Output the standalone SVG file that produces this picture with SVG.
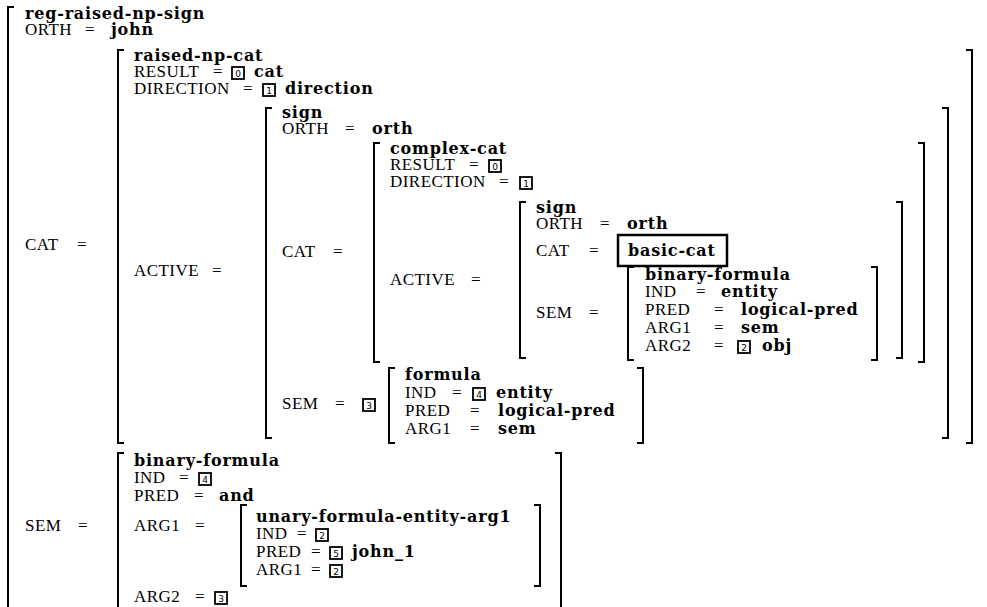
<svg xmlns="http://www.w3.org/2000/svg" width="987" height="607" viewBox="0 0 987 607">
<style>
.r{font-family:"Liberation Serif","Times New Roman",serif;font-size:17px;letter-spacing:0.45px;fill:#000}
.b{font-family:"DejaVu Serif",serif;font-weight:bold;font-size:16px;letter-spacing:0.8px;fill:#000}
.br{fill:none;stroke:#000;stroke-width:2}
.tg{fill:none;stroke:#000;stroke-width:1.8}
.tn{font-family:"DejaVu Sans",sans-serif;font-size:9px;fill:#000;text-anchor:middle}
</style>
<rect width="987" height="607" fill="#fff"/>
<defs>
<g id="t0"><rect class="tg" x="0" y="0" width="12" height="12"/><text class="tn" x="6" y="9.5">0</text></g>
<g id="t1"><rect class="tg" x="0" y="0" width="12" height="12"/><text class="tn" x="6" y="9.5">1</text></g>
<g id="t2"><rect class="tg" x="0" y="0" width="12" height="12"/><text class="tn" x="6" y="9.5">2</text></g>
<g id="t3"><rect class="tg" x="0" y="0" width="12" height="12"/><text class="tn" x="6" y="9.5">3</text></g>
<g id="t4"><rect class="tg" x="0" y="0" width="12" height="12"/><text class="tn" x="6" y="9.5">4</text></g>
<g id="t5"><rect class="tg" x="0" y="0" width="12" height="12"/><text class="tn" x="6" y="9.5">5</text></g>
</defs>

<g id="top">
<path class="br" d="M14 7H8V612"/>
<text class="b" x="25" y="19">reg-raised-np-sign</text>
<text class="r" x="25" y="35">ORTH</text><text class="r" x="85" y="35">=</text><text class="b" x="111" y="35">john</text>
<text class="r" x="25" y="250">CAT</text><text class="r" x="77" y="250">=</text>
<text class="r" x="25" y="531">SEM</text><text class="r" x="78" y="531">=</text>
</g>

<g id="raised-np-cat">
<path class="br" d="M124 50H118V443H124"/>
<path class="br" d="M966 50H972V443H966"/>
<text class="b" x="134" y="61">raised-np-cat</text>
<text class="r" x="134" y="77">RESULT</text><text class="r" x="213" y="77">=</text><use href="#t0" x="232" y="67"/><text class="b" x="254" y="77">cat</text>
<text class="r" x="134" y="94">DIRECTION</text><text class="r" x="243" y="94">=</text><use href="#t1" x="263" y="84"/><text class="b" x="285" y="94">direction</text>
<text class="r" x="134" y="276">ACTIVE</text><text class="r" x="212" y="276">=</text>
</g>

<g id="sign-outer">
<path class="br" d="M272 108H266V438H272"/>
<path class="br" d="M942 108H948V438H942"/>
<text class="b" x="282" y="118">sign</text>
<text class="r" x="282" y="134">ORTH</text><text class="r" x="345" y="134">=</text><text class="b" x="372" y="134">orth</text>
<text class="r" x="282" y="257">CAT</text><text class="r" x="333" y="257">=</text>
<text class="r" x="282" y="409">SEM</text><text class="r" x="335" y="409">=</text><use href="#t3" x="363" y="399"/>
</g>

<g id="complex-cat">
<path class="br" d="M380 143H374V362H380"/>
<path class="br" d="M918 143H924V362H918"/>
<text class="b" x="390" y="154">complex-cat</text>
<text class="r" x="390" y="170">RESULT</text><text class="r" x="469" y="170">=</text><use href="#t0" x="489" y="160"/>
<text class="r" x="390" y="187">DIRECTION</text><text class="r" x="499" y="187">=</text><use href="#t1" x="520" y="177"/>
<text class="r" x="390" y="285">ACTIVE</text><text class="r" x="471" y="285">=</text>
</g>

<g id="sign-inner">
<path class="br" d="M526 202H520V358H526"/>
<path class="br" d="M896 202H902V358H896"/>
<text class="b" x="536" y="213">sign</text>
<text class="r" x="536" y="229">ORTH</text><text class="r" x="600" y="229">=</text><text class="b" x="627" y="229">orth</text>
<text class="r" x="536" y="256">CAT</text><text class="r" x="589" y="256">=</text>
<rect x="618" y="235" width="109" height="31" fill="none" stroke="#000" stroke-width="2.5"/>
<text class="b" x="628" y="256">basic-cat</text>
<text class="r" x="536" y="318">SEM</text><text class="r" x="589" y="318">=</text>
</g>

<g id="binary-formula-inner">
<path class="br" d="M634 267H628V360H634"/>
<path class="br" d="M871 267H877V360H871"/>
<text class="b" x="645" y="280">binary-formula</text>
<text class="r" x="645" y="297">IND</text><text class="r" x="696" y="297">=</text><text class="b" x="721" y="297">entity</text>
<text class="r" x="645" y="315">PRED</text><text class="r" x="714" y="315">=</text><text class="b" x="741" y="315">logical-pred</text>
<text class="r" x="645" y="333">ARG1</text><text class="r" x="714" y="333">=</text><text class="b" x="741" y="333">sem</text>
<text class="r" x="645" y="351">ARG2</text><text class="r" x="714" y="351">=</text><use href="#t2" x="738" y="341"/><text class="b" x="762" y="351">obj</text>
</g>

<g id="formula">
<path class="br" d="M395 368H389V443H395"/>
<path class="br" d="M637 368H643V443H637"/>
<text class="b" x="405" y="380">formula</text>
<text class="r" x="405" y="398">IND</text><text class="r" x="452" y="398">=</text><use href="#t4" x="473" y="388"/><text class="b" x="496" y="398">entity</text>
<text class="r" x="405" y="416">PRED</text><text class="r" x="470" y="416">=</text><text class="b" x="498" y="416">logical-pred</text>
<text class="r" x="405" y="434">ARG1</text><text class="r" x="470" y="434">=</text><text class="b" x="498" y="434">sem</text>
</g>

<g id="binary-formula-outer">
<path class="br" d="M124 453H118V612"/>
<path class="br" d="M555 453H561V612"/>
<text class="b" x="134" y="466">binary-formula</text>
<text class="r" x="134" y="483">IND</text><text class="r" x="179" y="483">=</text><use href="#t4" x="199" y="473"/>
<text class="r" x="134" y="501">PRED</text><text class="r" x="194" y="501">=</text><text class="b" x="219" y="501">and</text>
<text class="r" x="134" y="531">ARG1</text><text class="r" x="195" y="531">=</text>
<text class="r" x="134" y="602">ARG2</text><text class="r" x="195" y="602">=</text><use href="#t3" x="215" y="592"/>
</g>

<g id="unary-formula">
<path class="br" d="M247 505H241V586H247"/>
<path class="br" d="M534 505H540V586H534"/>
<text class="b" x="256" y="522">unary-formula-entity-arg1</text>
<text class="r" x="256" y="539">IND</text><text class="r" x="297" y="539">=</text><use href="#t2" x="316" y="529"/>
<text class="r" x="256" y="557">PRED</text><text class="r" x="311" y="557">=</text><use href="#t5" x="330" y="547"/><text class="b" x="352" y="557">john_1</text>
<text class="r" x="256" y="575">ARG1</text><text class="r" x="311" y="575">=</text><use href="#t2" x="330" y="565"/>
</g>
</svg>
